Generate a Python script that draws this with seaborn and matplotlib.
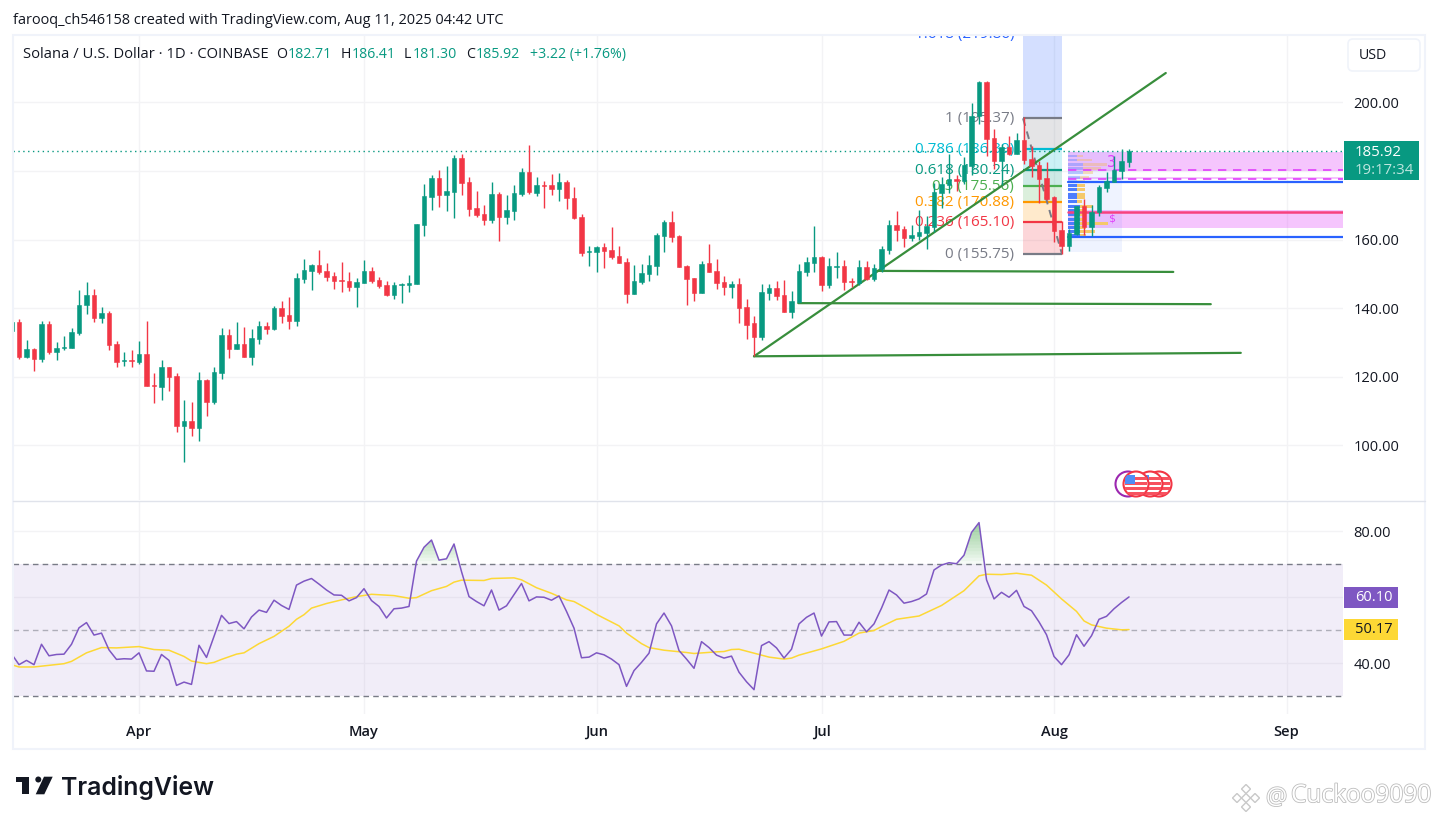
import numpy as np
import pandas as pd
import seaborn as sns
from matplotlib import pyplot as plt
from matplotlib import patheffects as pe
from matplotlib.patches import Circle, FancyBboxPatch, Polygon, Rectangle

# days counted from Apr 1 2025
days = np.arange(-17, 133)
opens = [133.4, 136.0, 125.8, 128.1, 125.2, 135.4, 127.2, 128.4, 128.4, 132.8, 141.0, 143.9, 137.2, 138.6, 129.6, 124.7, 124.9,
         124.3, 126.6, 117.6, 117.0, 122.8, 120.2, 105.6, 107.0, 105.0, 119.0, 112.6, 121.1, 132.2, 128.1, 129.6, 125.8, 131.0,
         134.8, 134.0, 140.1, 138.0, 136.3, 148.6, 150.9, 152.7, 150.9, 149.5, 148.3, 148.0, 146.2, 147.4,
         150.9, 148.3, 146.8, 143.9, 146.8, 146.8, 147.1, 164.3, 172.5, 178.1, 173.1, 174.0, 183.9, 176.9, 169.3, 167.5, 165.8,
         173.4, 166.7, 168.4, 173.4, 179.8, 173.7, 176.0, 176.0, 174.8, 176.9, 172.2, 166.7, 156.5, 156.5, 157.9, 157.0, 155.3,
         153.5, 144.2, 147.7, 150.0, 152.4, 161.1, 165.2, 161.1, 152.4, 148.9, 144.5, 153.2, 150.9, 147.7, 146.2, 147.1, 140.4,
         135.7, 131.6, 144.5, 146.0, 143.9, 138.9, 141.9, 150.6, 153.3, 155.0, 146.8, 152.1, 152.4, 148.0, 147.3, 152.1, 148.6,
         151.5, 157.1, 164.4, 163.2, 160.6, 161.2, 162.0, 163.8, 173.5, 175.8, 177.6, 177.0, 181.4, 196.0, 206.0, 189.6, 182.8,
         186.9, 184.9, 189.0, 183.4, 181.7, 177.9, 172.3, 162.9, 158.2, 161.8, 169.7, 163.8, 168.2, 175.2, 176.7, 179.9, 182.71]
highs = [136.5, 136.9, 130.7, 128.4, 136.3, 136.3, 130.1, 131.9, 134.2, 145.4, 147.7, 145.7, 140.4, 139.2, 130.4, 127.2, 127.8,
         130.4, 136.3, 121.1, 124.9, 122.8, 121.1, 113.2, 112.6, 121.4, 119.3, 122.8, 134.2, 134.0, 136.0, 134.5, 134.0, 136.3,
         136.0, 140.7, 142.1, 143.3, 150.3, 154.4, 153.0, 157.1, 153.3, 150.6, 153.6, 150.6, 148.9, 154.1,
         152.1, 149.2, 148.0, 147.7, 147.4, 149.7, 164.6, 176.3, 178.9, 180.4, 181.6, 184.8, 185.1, 178.3, 174.3, 170.2, 176.9,
         174.0, 173.1, 176.0, 181.0, 187.7, 178.3, 177.2, 179.2, 179.5, 177.5, 175.4, 167.5, 158.2, 158.2, 159.1, 163.8, 158.2,
         154.7, 152.7, 153.0, 155.6, 162.0, 165.8, 168.4, 161.4, 152.7, 148.9, 153.8, 158.8, 154.4, 149.5, 148.0, 148.9, 142.7,
         137.8, 147.1, 147.1, 148.0, 148.3, 145.1, 153.0, 155.0, 164.1, 155.3, 154.7, 156.5, 154.1, 148.9, 154.1, 153.9, 153.0,
         158.2, 165.6, 168.5, 164.1, 164.4, 168.8, 167.0, 176.6, 178.4, 184.9, 179.0, 184.0, 199.8, 206.2, 206.2, 192.2, 187.8,
         190.1, 191.0, 195.7, 187.2, 182.9, 182.7, 172.6, 165.4, 163.1, 169.9, 172.0, 170.2, 175.8, 179.8, 184.4, 186.3, 186.41]
lows = [132.5, 125.2, 125.5, 121.7, 124.3, 126.6, 124.9, 127.8, 128.4, 132.2, 138.3, 136.0, 135.7, 127.8, 122.8, 123.1, 122.8,
        123.7, 117.3, 112.3, 113.2, 115.8, 103.8, 95.3, 102.9, 101.2, 108.5, 112.0, 119.3, 125.5, 128.1, 125.8, 123.4, 129.6,
        132.5, 133.7, 135.7, 134.0, 134.8, 147.4, 145.4, 150.0, 148.0, 145.7, 144.8, 145.1, 140.4, 147.4,
        147.4, 146.0, 143.6, 142.7, 141.6, 144.8, 147.1, 161.1, 168.7, 169.6, 168.4, 166.4, 173.1, 167.0, 166.7, 164.3, 164.9,
        159.7, 164.6, 165.8, 172.8, 173.4, 172.8, 169.3, 173.1, 171.3, 169.0, 166.1, 155.3, 152.4, 150.6, 151.8, 154.4, 153.2,
        141.6, 144.2, 147.1, 148.0, 149.7, 156.5, 159.4, 152.1, 141.0, 142.2, 144.5, 150.6, 145.7, 143.9, 143.0, 135.7, 131.1,
        126.0, 130.7, 142.4, 142.4, 138.9, 137.2, 141.5, 149.5, 150.6, 145.1, 146.0, 148.9, 145.4, 146.3, 146.8, 148.3, 148.0,
        150.6, 155.9, 159.7, 158.0, 159.7, 160.0, 157.4, 162.3, 169.1, 173.5, 174.3, 176.1, 179.0, 193.7, 184.3, 180.5, 175.8,
        184.6, 184.9, 182.2, 178.4, 170.7, 171.7, 159.2, 155.8, 156.6, 161.4, 161.5, 161.2, 166.8, 173.8, 176.7, 177.6, 181.30]
closes = [136.0, 125.8, 128.1, 125.2, 135.4, 127.2, 128.4, 128.7, 133.1, 141.0, 143.9, 137.2, 138.6, 129.3, 124.3, 124.9, 124.7,
          126.6, 117.3, 117.3, 122.8, 119.9, 105.6, 107.0, 105.0, 119.0, 112.6, 121.4, 132.2, 128.1, 129.6, 125.8, 131.3, 134.8,
          134.0, 140.1, 137.8, 136.3, 148.9, 151.2, 152.7, 150.6, 149.2, 148.0, 148.0, 146.2, 147.7, 150.9,
          148.0, 146.5, 143.9, 146.8, 147.1, 147.4, 164.6, 172.8, 178.1, 173.1, 174.3, 183.9, 176.6, 169.0, 167.3, 165.8, 173.4,
          166.7, 168.7, 173.7, 179.8, 174.0, 176.0, 175.7, 174.8, 176.9, 172.2, 166.4, 156.2, 156.8, 157.9, 156.8, 155.0, 153.2,
          144.2, 148.0, 150.3, 152.7, 161.4, 165.2, 160.8, 152.1, 148.6, 144.5, 153.0, 150.6, 147.4, 146.2, 147.1, 140.1, 135.2,
          131.7, 144.8, 146.0, 143.6, 138.9, 142.1, 150.9, 153.6, 155.0, 146.8, 152.4, 152.4, 147.7, 147.7, 152.1, 148.6, 151.8,
          157.4, 164.4, 162.9, 160.6, 161.5, 162.3, 164.1, 173.8, 176.1, 177.6, 177.1, 181.7, 196.0, 206.0, 189.3, 182.8, 186.9,
          184.9, 189.0, 183.1, 181.4, 177.6, 172.0, 162.6, 158.2, 162.0, 169.7, 163.8, 168.2, 175.5, 177.0, 180.2, 182.8, 185.92]

rsi = [42.8, 39.5, 40.8, 39.5, 45.7, 42.2, 42.6, 42.7, 45.7, 50.7, 52.3, 48.5, 49.1, 44.0, 41.1, 41.3, 41.2,
       43.1, 37.6, 37.5, 42.6, 40.8, 33.2, 34.2, 33.5, 45.4, 41.7, 48.1, 54.5, 52.0, 52.6, 50.4, 54.0, 56.1, 55.4, 59.1, 57.5, 56.3,
       63.7, 64.9, 65.7, 64.0, 62.2, 60.7, 60.6, 58.9, 59.9, 62.6, 59.0, 57.2, 53.7, 56.5, 56.7, 57.2, 71.0, 75.2, 77.4, 71.3, 71.7,
       76.2, 67.8, 60.2, 58.7, 57.4, 62.2, 56.1, 57.4, 60.8, 64.2, 58.9, 60.1, 60.0, 59.1, 60.4, 55.7, 50.6,
       41.6, 41.8, 43.1, 42.5, 41.2, 39.5, 32.9, 37.7, 40.2, 43.0, 51.9, 55.2, 51.3, 43.8, 41.2, 38.4, 46.5, 44.7, 42.4, 41.5, 42.1,
       37.2, 34.3, 31.9, 45.3, 46.5, 44.6, 41.5, 44.2, 51.9, 53.9, 55.2, 48.2, 52.5, 52.6, 48.5, 48.5, 52.4, 49.5, 51.9, 56.7, 62.2,
       60.7, 58.2, 58.7, 59.5, 61.0, 68.3, 69.8, 70.5, 70.2, 72.8, 79.7, 82.7, 65.3, 59.5, 61.5, 60.0, 62.1, 57.2, 55.9, 52.5, 48.6,
       42.0, 39.5, 42.5, 48.6, 45.1, 48.3, 53.3, 54.2, 56.5, 58.4, 60.1]
ma_days = [-17, -16, -14, -12, -10, -9, -7, -5, -3, 0, 2, 4, 6, 7, 9, 10, 11, 13, 14, 16, 18, 20, 21, 22, 23, 25, 27, 29, 31, 34,
           36, 37, 39, 41, 42, 43, 46, 47, 50, 51, 53, 55, 57, 58, 60, 61, 64, 65, 67, 68, 70, 73, 74, 77, 78, 79, 80, 82, 84, 86,
           87, 88, 91, 94, 96, 98, 99, 101, 104, 107, 110, 112, 113, 115, 117, 119, 121, 123, 125, 126, 127, 129, 131, 132]
ma_vals = [39.5, 38.8, 38.8, 39.3, 39.8, 40.5, 43.1, 44.7, 44.6, 45.0, 44.1, 43.9, 42.0, 40.6, 39.8, 40.2, 41.1, 42.7, 43.1, 45.9,
           48.1, 51.2, 53.3, 54.7, 56.7, 58.1, 59.2, 60.2, 60.9, 60.5, 59.7, 59.9, 62.0, 63.3, 64.6, 65.2, 65.1, 65.7, 65.9, 65.3,
           62.9, 61.2, 59.2, 58.7, 56.2, 54.8, 51.3, 49.1, 45.9, 44.7, 43.9, 43.2, 42.9, 43.4, 43.5, 44.1, 44.2, 43.0, 41.8, 41.2,
           41.5, 42.4, 44.3, 46.6, 49.1, 49.9, 51.1, 53.3, 54.3, 57.5, 62.0, 66.5, 67.0, 66.9, 67.3, 66.7, 63.7, 59.5, 55.7, 52.8,
           51.6, 50.6, 50.1, 50.17]

month_days = [0, 30, 61, 91, 122, 153]
month_names = ['Apr', 'May', 'Jun', 'Jul', 'Aug', 'Sep']
price_ticks = [100, 120, 140, 160, 180, 200]
price_labels = ['100.00', '120.00', '140.00', '160.00', '', '200.00']
rsi_ticks = [40, 60, 80]
rsi_labels = ['40.00', '', '80.00']

fib_levels = ['1.618', '1', '0.786', '0.618', '0.5', '0.382', '0.236', '0']
fib_prices = [219.86, 195.37, 186.39, 180.24, 175.56, 170.88, 165.10, 155.75]
fib_colors = ['#2962ff', '#787b86', '#00bcd4', '#089981', '#4caf50', '#ff9800', '#f23645', '#787b86']

# volume profile rows next to the Aug bars
vp_prices = [184.4, 183.2, 182.0, 180.8, 179.5, 178.1, 176.9, 175.7, 174.5, 173.3, 172.4, 171.1, 169.8, 168.6, 167.3, 166.0, 164.8, 163.6, 162.3, 161.2]
vp_blue = [1.1, 1.1, 2.0, 2.0, 2.0, 1.6, 1.1, 1.1, 1.1, 1.1, 1.1, 1.1, 1.6, 1.6, 1.6, 1.6, 1.6, 1.6, 1.6, 1.6]
vp_orange = [0.9, 2.0, 3.1, 2.3, 1.3, 1.1, 1.1, 1.1, 1.1, 1.1, 1.1, 0.7, 1.7, 0.7, 0.8, 0.4, 3.7, 0.7, 2.0, 0.7]

GREEN = '#089981'
RED = '#f23645'
PURPLE = '#7e57c2'
YELLOW = '#fdd835'
GRID = '#f3f3f5'
FONT = ['Open Sans', 'DejaVu Sans']

W, H = 1438, 824


def px_box(l, t, r, b):
    return [l / W, 1 - b / H, (r - l) / W, (b - t) / H]


sns.set_theme(style='white')
plt.rcParams['font.family'] = FONT

fig = plt.figure(figsize=(W / 100, H / 100), dpi=100, facecolor='white')
ax = fig.add_axes(px_box(13, 35, 1343, 500))
ax2 = fig.add_axes(px_box(13, 501, 1343, 714))

x0, x1 = -16.8, 160.53
for a in (ax, ax2):
    a.set_xlim(x0, x1)
    a.set_xticks(month_days)
    a.grid(True, color=GRID, lw=1)
    a.set_axisbelow(True)
    for s in a.spines.values():
        s.set_visible(False)
    a.yaxis.tick_right()
    a.tick_params(length=0, labelsize=10.5, labelcolor='#131722', pad=7.5)

# ---- price pane
ax.set_ylim(84.1, 219.68)
ax.set_yticks(price_ticks)
ax.set_yticklabels(price_labels)
ax.set_xticklabels([])

# fib retracement
fx0, fx1 = 117.87, 123.07
for i in range(len(fib_prices)):
    if i < len(fib_prices) - 1:
        ax.fill_between([fx0, fx1], fib_prices[i], fib_prices[i + 1], color=fib_colors[i], alpha=0.2, lw=0, zorder=1)
    ax.plot([fx0, fx1], [fib_prices[i]] * 2, color=fib_colors[i], lw=1.6, zorder=1.5, solid_capstyle='butt')
    ax.text(116.67, fib_prices[i], f'{fib_levels[i]} ({fib_prices[i]:.2f})', color=fib_colors[i], ha='right', va='center',
            fontsize=11, clip_on=True, zorder=1.6)
ax.plot([fx0, fx1], [195.37, 155.75], color='#787b86', lw=1.4, ls=(0, (4, 3)), zorder=1.7)

# zones
zx = 123.9
ax.fill_between([zx, x1], 185.7, 180.1, color='#e040fb', alpha=0.3, lw=0, zorder=1)
ax.fill_between([zx, x1], 178.3, 177.6, color='#e040fb', alpha=0.3, lw=0, zorder=1)
ax.fill_between([zx, x1], 168.6, 163.5, color='#e040fb', alpha=0.3, lw=0, zorder=1)
ax.fill_between([zx, 131.1], 185.9, 156.4, color='#2962ff', alpha=0.07, lw=0, zorder=1)
ax.barh(vp_prices[:7], vp_blue[:7], left=zx, height=0.8, color='#5b7fff', alpha=0.4, lw=0, zorder=1.2)
ax.barh(vp_prices[7:], vp_blue[7:], left=zx, height=0.9, color='#4d7cfe', lw=0, zorder=1.2)
ax.barh(vp_prices[:7], vp_orange[:7], left=zx + np.array(vp_blue[:7]), height=0.8, color='#f5b75b', alpha=0.4, lw=0, zorder=1.2)
ax.barh(vp_prices[7:], vp_orange[7:], left=zx + np.array(vp_blue[7:]), height=0.9, color='#f5c96b', lw=0, zorder=1.2)
ax.plot([zx, x1], [180.2, 180.2], color='#e040fb', lw=1.2, ls=(0, (5, 4)), zorder=1.5)
ax.plot([zx, x1], [177.6, 177.6], color='#e040fb', lw=1.2, ls=(0, (5, 4)), zorder=1.5)
ax.plot([zx, x1], [176.9, 176.9], color='#2962ff', lw=1.6, zorder=1.5)
ax.plot([zx, x1], [168.2, 168.2], color='#f7417f', lw=1.8, zorder=1.5)
ax.plot([zx, x1], [160.8, 160.8], color='#2962ff', lw=1.6, zorder=1.5)
ax.text(129.7, 182.4, '3', color='#e040fb', fontsize=11, ha='center', va='center', family='DejaVu Sans Mono', zorder=1.6)
ax.text(129.8, 166.3, '$', color='#e040fb', fontsize=8, ha='center', va='center', family='DejaVu Sans Mono', zorder=1.6)

# green trend lines
ax.plot([82, 136.9], [126, 208.6], color='#388e3c', lw=1.6, zorder=1.8)
ax.plot([82, 146.9], [126, 127], color='#388e3c', lw=1.6, zorder=1.8)
ax.plot([87.9, 142.9], [141.5, 141.2], color='#388e3c', lw=1.6, zorder=1.8)
ax.plot([98.4, 137.9], [150.9, 150.6], color='#388e3c', lw=1.6, zorder=1.8)

# last price
ax.axhline(closes[-1], color=GREEN, lw=1, ls=(0, (1, 2.5)), zorder=1.9)

# candles
opens_a, closes_a = np.array(opens), np.array(closes)
colors = [GREEN if c >= o else RED for o, c in zip(opens_a, closes_a)]
ax.vlines(days, lows, highs, colors=colors, lw=1.0, zorder=3)
ax.bar(days, np.abs(closes_a - opens_a), bottom=np.minimum(opens_a, closes_a), width=0.66, color=colors,
       edgecolor=colors, lw=0.4, zorder=3.1)

# ---- rsi pane
ax2.set_ylim(24.5, 89.27)
ax2.set_yticks(rsi_ticks)
ax2.set_yticklabels(rsi_labels)
ax2.set_xticklabels(month_names, fontsize=10.5, fontweight='semibold', color='#131722')
ax2.tick_params(axis='x', pad=7.7)
ax2.axhspan(30, 70, color=PURPLE, alpha=0.1, lw=0, zorder=1)
ax2.axhline(70, color='#787b86', lw=1, ls=(0, (4, 3)), zorder=1.5)
ax2.axhline(50, color='#787b86', lw=1, ls=(0, (4, 3)), alpha=0.55, zorder=1.5)
ax2.axhline(30, color='#787b86', lw=1, ls=(0, (4, 3)), zorder=1.5)
# overbought shading gets stronger towards the top
for lev in np.arange(70, 83, 1.0):
    ax2.fill_between(days, lev, rsi, where=np.array(rsi) > lev, interpolate=True, color='#4caf50', alpha=0.05, lw=0, zorder=1.6)
sns.lineplot(x=ma_days, y=ma_vals, ax=ax2, color=YELLOW, lw=1.1, zorder=2, errorbar=None, estimator=None)
sns.lineplot(x=days, y=rsi, ax=ax2, color=PURPLE, lw=1.1, zorder=2.5, errorbar=None, estimator=None)
ax2.set_xlabel('')
ax2.set_ylabel('')

# ---- everything around the panes, in pixels
ov = fig.add_axes([0, 0, 1, 1], zorder=5)
ov.set_xlim(0, W)
ov.set_ylim(H, 0)
ov.axis('off')
ov.patch.set_alpha(0)

ov.add_patch(Rectangle((13, 35), 1412, 714, fill=False, edgecolor='#f0f3fa', lw=1.5))
ov.plot([13, 1425], [500.5, 500.5], color='#e0e3eb', lw=1)

ov.text(13, 20, 'farooq_ch546158 created with TradingView.com, Aug 11, 2025 04:42 UTC', fontsize=10.45, color='#131722', va='center')
ov.text(23, 54, 'Solana / U.S. Dollar · 1D · COINBASE', fontsize=10.6, color='#131722', va='center')
for lab, lx, val, vx in [('O', 276.5, '182.71', 287.5), ('H', 341, '186.41', 351.4), ('L', 404, '181.30', 413), ('C', 466, '185.92', 475.6)]:
    ov.text(lx, 54, lab, fontsize=10.2, color='#131722', va='center')
    ov.text(vx, 54, val, fontsize=10.2, color=GREEN, va='center')
ov.text(529.5, 54, '+3.22 (+1.76%)', fontsize=10.2, color=GREEN, va='center')

ov.add_patch(FancyBboxPatch((1351, 42), 66, 26, boxstyle='round,pad=3,rounding_size=5', fc='white', ec='#f0f3fa', lw=1.2))
ov.text(1359, 55, 'USD', fontsize=10.2, color='#131722', va='center')

ov.add_patch(Rectangle((1344, 141), 75, 39, fc=GREEN, lw=0))
ov.text(1355, 152, f'{closes[-1]:.2f}', fontsize=10.8, color='white', va='center')
ov.text(1355, 170, '19:17:34', fontsize=10.8, color='#bfe6df', va='center')
ov.add_patch(Rectangle((1344, 587), 54, 21, fc=PURPLE, lw=0))
ov.text(1355, 597.5, f'{rsi[-1]:.2f}', fontsize=10.5, color='white', va='center')
ov.add_patch(Rectangle((1344, 619), 54, 21, fc=YELLOW, lw=0))
ov.text(1355, 629.5, f'{ma_vals[-1]:.2f}', fontsize=10.5, color='#131722', va='center')

# event flags
ov.add_patch(Circle((1128, 484), 12.5, fc='white', ec='#9c27b0', lw=1.5))
for fx in (1159, 1150, 1136):
    circ = Circle((fx, 484), 12.5, fc='white', ec=RED, lw=1.5)
    ov.add_patch(circ)
    for sy in (477, 482, 487, 492):
        r = Rectangle((fx - 11, sy), 22, 2.5, fc='#f7525f', lw=0)
        ov.add_patch(r)
        r.set_clip_path(circ)
    r = Rectangle((fx - 11, 475), 10, 9, fc='#4f8df7', lw=0)
    ov.add_patch(r)
    r.set_clip_path(circ)

# logo
ov.add_patch(Polygon([(15.7, 776.7), (29.3, 776.7), (29.3, 794.3), (21.7, 794.3), (21.7, 782), (15.7, 782)], fc='#131722', lw=0))
ov.add_patch(Circle((38.3, 779.5), 3, fc='#131722', lw=0))
ov.add_patch(Polygon([(44, 776.7), (52.7, 776.7), (44.3, 794.3), (35.7, 794.3)], fc='#131722', lw=0))
ov.text(61.5, 787.5, 'TradingView', fontsize=17.9, fontweight='semibold', color='#131722', va='center', family=['Inter', 'DejaVu Sans'])

# watermark
halo = [pe.withStroke(linewidth=1.2, foreground='#bdbdbd')]
ov.text(1266, 798, '@', fontsize=17, color='white', va='center', path_effects=halo)
ov.text(1291, 796, 'Cuckoo9090', fontsize=17.6, color='white', va='center', path_effects=halo)
for dx, dy in [(0, -9), (-9, 0), (9, 0), (0, 9), (0, 0)]:
    ov.add_patch(Polygon([(1246 + dx, 798 + dy - 4.5), (1246 + dx + 4.5, 798 + dy), (1246 + dx, 798 + dy + 4.5), (1246 + dx - 4.5, 798 + dy)],
                         fc='white', ec='#c8c8c8', lw=1))

fig.savefig('out.png', dpi=100)
